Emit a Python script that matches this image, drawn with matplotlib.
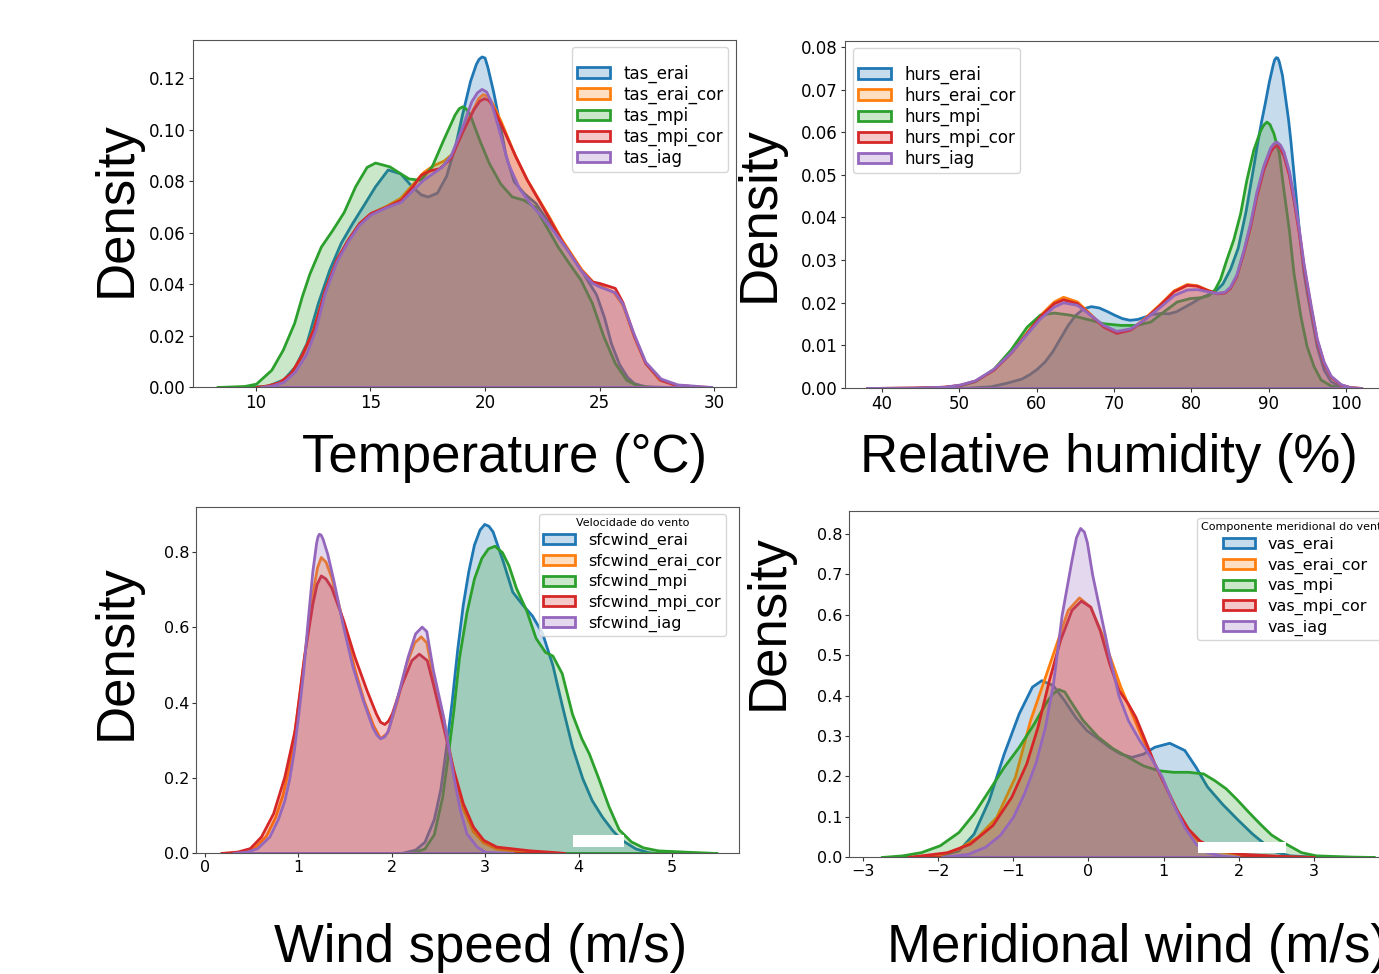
import matplotlib
matplotlib.use("Agg")
import matplotlib.pyplot as plt
from matplotlib.patches import Patch, Rectangle
from matplotlib.colors import to_rgba

# ---------------- data (density curves) ----------------
# Panel 1: temperature
tas_erai_x = [9.5, 10.5, 11.2, 11.7, 12.2, 12.7, 13.2, 13.7, 14.2, 14.7, 15.2, 15.75, 16.3, 16.8, 17.2, 17.5, 17.9, 18.3, 18.7, 19.0,
              19.35, 19.6, 19.72, 19.85, 19.98, 20.1, 20.35, 20.6, 20.9, 21.25, 21.7, 22.2, 22.7, 23.2, 23.7, 24.2, 24.5, 24.85, 25.2, 25.5,
              25.85, 26.2, 26.5, 27.0, 28.0]
tas_erai_y = [0.0, 0.0005, 0.003, 0.008, 0.017, 0.0326, 0.0456, 0.056, 0.0637, 0.0708, 0.078, 0.0845, 0.083, 0.078, 0.0748, 0.074, 0.0755, 0.082, 0.094, 0.106,
              0.119, 0.1255, 0.1275, 0.1284, 0.128, 0.1245, 0.115, 0.104, 0.090, 0.080, 0.0753, 0.0715, 0.065, 0.058, 0.052, 0.0455, 0.041, 0.036, 0.027, 0.017,
              0.009, 0.004, 0.0015, 0.0003, 0.0]
tas_erai_cor_x = [10.0, 10.5, 11.0, 11.5, 12.0, 12.5, 13.0, 13.5, 14.0, 14.5, 15.0, 15.7, 16.3, 16.8, 17.3, 17.7, 18.2, 18.6, 19.0, 19.5,
                  19.7, 19.9, 20.1, 20.3, 20.7, 21.3, 21.8, 22.3, 22.8, 23.3, 24.2, 24.7, 25.0, 25.6, 26.0, 26.5, 27.0, 27.6, 28.3, 29.8]
tas_erai_cor_y = [0.0, 0.0006, 0.0018, 0.005, 0.0125, 0.0225, 0.0375, 0.049, 0.057, 0.0635, 0.0675, 0.0705, 0.0735, 0.0785, 0.0835, 0.086, 0.088, 0.091, 0.100, 0.1085,
                  0.1122, 0.1138, 0.113, 0.1105, 0.103, 0.090, 0.081, 0.0735, 0.066, 0.058, 0.0458, 0.041, 0.0395, 0.037, 0.032, 0.0195, 0.0092, 0.0028, 0.0008, 0.0]
tas_mpi_x = [8.3, 9.5, 10.0, 10.67, 11.17, 11.67, 12.0, 12.33, 12.83, 13.33, 13.83, 14.33, 14.83, 15.2, 15.83, 16.3, 16.67, 17.17, 17.67, 18.17,
             18.67, 18.85, 19.0, 19.15, 19.33, 19.75, 20.17, 20.67, 21.17, 21.67, 22.17, 22.67, 23.17, 23.67, 24.17, 24.67, 25.17, 25.67, 26.17, 26.67,
             27.3]
tas_mpi_y = [0.0, 0.0004, 0.0013, 0.0067, 0.0145, 0.025, 0.0352, 0.044, 0.0545, 0.061, 0.068, 0.078, 0.0855, 0.0872, 0.0857, 0.083, 0.081, 0.0805, 0.0857, 0.096,
             0.1058, 0.1083, 0.109, 0.1083, 0.106, 0.096, 0.087, 0.079, 0.074, 0.0728, 0.070, 0.0624, 0.0546, 0.048, 0.0417, 0.0326, 0.0197, 0.0093, 0.0028, 0.0005,
             0.0]
tas_mpi_cor_x = [10.0, 10.5, 11.0, 11.5, 12.0, 12.5, 13.0, 13.5, 14.0, 14.5, 15.0, 15.67, 16.33, 16.83, 17.2, 17.6, 18.0, 18.5, 19.0, 19.5,
                 19.75, 19.95, 20.15, 20.3, 20.67, 21.33, 21.83, 22.33, 22.83, 23.33, 24.17, 24.67, 25.0, 25.67, 26.0, 26.5, 27.0, 27.67, 28.3, 29.5]
tas_mpi_cor_y = [0.0, 0.0006, 0.0018, 0.0052, 0.0125, 0.0223, 0.0378, 0.0494, 0.0572, 0.0637, 0.0676, 0.070, 0.0728, 0.078, 0.0825, 0.0842, 0.085, 0.089, 0.099, 0.108,
                 0.1112, 0.1122, 0.1115, 0.1095, 0.1025, 0.0896, 0.0805, 0.0728, 0.065, 0.057, 0.0456, 0.041, 0.0404, 0.0385, 0.033, 0.020, 0.0093, 0.0028, 0.0009, 0.0]
tas_iag_x = [10.2, 10.7, 11.2, 11.7, 12.2, 12.6, 13.0, 13.5, 14.0, 14.5, 15.0, 15.67, 16.33, 16.83, 17.3, 17.7, 18.1, 18.5, 19.0, 19.4,
             19.65, 19.85, 20.05, 20.25, 20.6, 21.0, 21.5, 22.0, 22.5, 23.0, 23.5, 24.17, 24.67, 25.0, 25.67, 26.0, 26.5, 27.0, 27.67, 28.4,
             29.9]
tas_iag_y = [0.0, 0.0006, 0.002, 0.006, 0.013, 0.0225, 0.0365, 0.0485, 0.0565, 0.063, 0.067, 0.0698, 0.072, 0.0765, 0.0805, 0.083, 0.0855, 0.090, 0.101, 0.111,
             0.1145, 0.1158, 0.1148, 0.111, 0.100, 0.087, 0.077, 0.071, 0.066, 0.0605, 0.0545, 0.0455, 0.0405, 0.039, 0.0368, 0.0325, 0.0205, 0.0098, 0.0033, 0.001,
             0.0]

# Panel 2: relative humidity
hurs_erai_x = [50, 54, 56, 58, 59, 60, 61, 62, 63, 64, 65, 66, 67, 68, 69, 70, 71, 72, 73, 74,
               75, 76, 77, 78, 79, 80, 81, 82, 83, 84, 85, 86, 87, 88, 88.5, 89, 89.5, 90, 90.5, 90.7,
               90.9, 91.1, 91.3, 91.7, 92.1, 92.5, 92.8, 93.4, 94, 94.5, 95, 95.4, 96.2, 97.1, 98,
               99.3, 100.5]
hurs_erai_y = [0.0, 0.0004, 0.0012, 0.0022, 0.0032, 0.0045, 0.0062, 0.0086, 0.0117, 0.0148, 0.0172, 0.0187, 0.0192, 0.0189, 0.0181, 0.0172, 0.0164, 0.0160, 0.0162, 0.0168,
               0.0174, 0.0176, 0.0175, 0.0180, 0.0190, 0.0200, 0.0211, 0.0219, 0.0227, 0.0245, 0.028, 0.033, 0.0415, 0.052, 0.0575, 0.0625, 0.067, 0.0718, 0.0758, 0.0771,
               0.0776, 0.0775, 0.0766, 0.0735, 0.0683, 0.063, 0.058, 0.0465, 0.035, 0.027, 0.0215, 0.0176, 0.0098, 0.0043, 0.0016,
               0.0003, 0.0]
hurs_mpi_x = [44, 48, 50, 52, 54.4, 56.6, 58.7, 60.4, 62.2, 64.3, 66.5, 68.6, 70.8, 72.9, 74.7, 76.4, 78.1, 79.8, 81.2, 82.2,
              83.0, 83.7, 84.5, 85.4, 86.3, 87.1, 88.0, 88.9, 89.3, 89.7, 90.1, 90.6, 91.3, 91.9, 92.6, 93.2, 94.1, 94.9, 95.8, 96.7,
              98.0, 99.5]
hurs_mpi_y = [0.0, 0.0002, 0.0006, 0.0016, 0.0045, 0.009, 0.0144, 0.0172, 0.0177, 0.0172, 0.0162, 0.0152, 0.0148, 0.0148, 0.0156, 0.018, 0.0203, 0.0211, 0.0213, 0.0218,
              0.0232, 0.0256, 0.0301, 0.0348, 0.041, 0.0488, 0.0559, 0.0605, 0.0618, 0.0625, 0.0619, 0.0598, 0.0551, 0.0465, 0.0371, 0.027, 0.0168, 0.0098, 0.0051, 0.002,
              0.0006, 0.0]
hurs_cor_x = [38, 44, 48, 50, 52, 54.4, 56.6, 58.7, 60.4, 62.2, 63.4, 65.2, 66.9, 68.6, 70.3, 72.1, 73.8, 75.9, 77.7, 79.4,
              80.7, 82.0, 83.3, 84.3, 85.0, 85.8, 86.7, 87.6, 88.4, 89.3, 90.2, 90.6, 91.0, 91.45, 91.9, 92.6, 93.2, 93.9, 94.5, 95.4,
              96.2, 97.1, 98.0, 99.3, 100.5, 102.0]
hurs_erai_cor_y = [0.0, 0.0001, 0.0003, 0.0007, 0.0017, 0.0043, 0.0083, 0.0131, 0.0171, 0.0203, 0.0214, 0.0203, 0.0174, 0.0145, 0.0131, 0.0139, 0.0162, 0.0197, 0.0229, 0.0244,
                   0.0241, 0.0231, 0.0223, 0.0225, 0.0236, 0.0264, 0.0320, 0.0385, 0.0455, 0.0518, 0.0562, 0.0572, 0.0576, 0.0569, 0.0552, 0.0505, 0.0445, 0.0366, 0.0287, 0.0192,
                   0.0113, 0.0059, 0.0027, 0.0008, 0.0002, 0.0]
hurs_mpi_cor_y = [0.0, 0.0001, 0.0003, 0.0007, 0.0017, 0.0043, 0.0082, 0.0129, 0.0168, 0.0199, 0.0208, 0.0199, 0.0172, 0.0144, 0.0129, 0.0137, 0.016, 0.0195, 0.0227, 0.0242,
                  0.024, 0.023, 0.0222, 0.0224, 0.0235, 0.0262, 0.0317, 0.038, 0.045, 0.0512, 0.0555, 0.0565, 0.0570, 0.0562, 0.0545, 0.0500, 0.0440, 0.0362, 0.0284, 0.019,
                  0.0112, 0.0058, 0.0027, 0.0008, 0.0002, 0.0]
hurs_iag_y = [0.0, 0.0001, 0.0003, 0.0008, 0.0018, 0.0045, 0.0083, 0.0127, 0.0163, 0.0191, 0.0201, 0.0195, 0.0172, 0.0148, 0.0134, 0.0140, 0.0160, 0.0190, 0.0218, 0.0231,
              0.0232, 0.0227, 0.0223, 0.0226, 0.0238, 0.0266, 0.0322, 0.0388, 0.0460, 0.0522, 0.0565, 0.0574, 0.0578, 0.0571, 0.0555, 0.0510, 0.0450, 0.0372, 0.0292, 0.0197,
              0.0117, 0.0062, 0.0029, 0.0009, 0.0002, 0.0]

# Panel 3: wind speed
sfcwind_erai_x = [2.1, 2.25, 2.35, 2.45, 2.52, 2.58, 2.64, 2.70, 2.76, 2.82, 2.88, 2.94, 2.99, 3.035, 3.08, 3.19, 3.29, 3.40, 3.50, 3.61,
                  3.72, 3.82, 3.93, 4.04, 4.14, 4.25, 4.36, 4.46, 4.61, 4.75, 4.85]
sfcwind_erai_y = [0.0, 0.009, 0.03, 0.09, 0.17, 0.28, 0.40, 0.54, 0.66, 0.75, 0.82, 0.86, 0.875, 0.87, 0.855, 0.775, 0.695, 0.66, 0.632, 0.585,
                  0.50, 0.394, 0.283, 0.199, 0.141, 0.097, 0.061, 0.035, 0.012, 0.002, 0.0]
sfcwind_erai_cor_x = [0.25, 0.4, 0.52, 0.65, 0.75, 0.83, 0.9, 0.95, 1.0, 1.05, 1.1, 1.15, 1.2, 1.24, 1.29, 1.35, 1.42, 1.5, 1.6, 1.7,
                      1.8, 1.875, 1.95, 2.05, 2.15, 2.24, 2.31, 2.37, 2.44, 2.55, 2.66, 2.76, 2.87, 2.98, 3.12, 3.4, 3.7]
sfcwind_erai_cor_y = [0.0, 0.004, 0.013, 0.045, 0.095, 0.155, 0.23, 0.31, 0.40, 0.5, 0.6, 0.69, 0.76, 0.787, 0.775, 0.735, 0.67, 0.59, 0.49, 0.405,
                      0.34, 0.305, 0.32, 0.40, 0.50, 0.56, 0.576, 0.56, 0.47, 0.36, 0.215, 0.12, 0.058, 0.028, 0.012, 0.004, 0.0]
sfcwind_mpi_x = [2.2, 2.35, 2.45, 2.54, 2.6, 2.66, 2.72, 2.8, 2.88, 2.96, 3.03, 3.1, 3.18, 3.25, 3.33, 3.44, 3.54, 3.64, 3.72, 3.82,
                 3.93, 4.03, 4.11, 4.21, 4.32, 4.43, 4.56, 4.69, 4.85, 5.15, 5.48]
sfcwind_mpi_y = [0.0, 0.012, 0.05, 0.15, 0.26, 0.38, 0.52, 0.64, 0.73, 0.785, 0.81, 0.817, 0.80, 0.765, 0.705, 0.645, 0.572, 0.535, 0.525, 0.478,
                 0.37, 0.305, 0.265, 0.20, 0.125, 0.063, 0.031, 0.015, 0.007, 0.0035, 0.0]
sfcwind_mpi_cor_x = [0.17, 0.35, 0.48, 0.6, 0.73, 0.85, 0.96, 1.06, 1.15, 1.195, 1.24, 1.29, 1.35, 1.48, 1.6, 1.73, 1.83, 1.875, 1.92, 1.96,
                     2.0, 2.1, 2.21, 2.29, 2.375, 2.44, 2.55, 2.66, 2.76, 2.87, 2.98, 3.12, 3.48, 3.77, 3.85]
sfcwind_mpi_cor_y = [0.0, 0.004, 0.013, 0.044, 0.106, 0.203, 0.327, 0.522, 0.663, 0.715, 0.738, 0.73, 0.707, 0.619, 0.522, 0.433, 0.371, 0.349, 0.343, 0.352,
                     0.371, 0.446, 0.513, 0.530, 0.513, 0.45, 0.336, 0.221, 0.133, 0.07, 0.035, 0.017, 0.007, 0.002, 0.0]
sfcwind_iag_x = [0.3, 0.45, 0.56, 0.69, 0.78, 0.85, 0.9, 0.95, 1.0, 1.05, 1.1, 1.15, 1.19, 1.205, 1.22, 1.24, 1.26, 1.31, 1.375, 1.48,
                 1.58, 1.69, 1.79, 1.835, 1.875, 1.92, 1.96, 2.06, 2.17, 2.25, 2.32, 2.37, 2.44, 2.55, 2.66, 2.73, 2.80, 2.91, 3.0, 3.3]
sfcwind_iag_y = [0.0, 0.004, 0.013, 0.044, 0.09, 0.14, 0.195, 0.27, 0.37, 0.48, 0.62, 0.75, 0.825, 0.842, 0.849, 0.846, 0.835, 0.795, 0.725, 0.601,
                 0.495, 0.407, 0.336, 0.315, 0.305, 0.31, 0.327, 0.416, 0.522, 0.584, 0.602, 0.59, 0.487, 0.363, 0.203, 0.114, 0.052, 0.017, 0.003, 0.0]

# Panel 4: meridional wind
vas_erai_x = [-2.1, -1.975, -1.725, -1.525, -1.325, -1.125, -0.925, -0.75, -0.625, -0.475, -0.325, -0.175, -0.025, 0.125, 0.275, 0.425, 0.575, 0.725, 0.875, 1.075,
              1.275, 1.425, 1.575, 1.775, 1.975, 2.175, 2.325, 2.475, 2.675, 3.0, 3.5]
vas_erai_y = [0.0, 0.004, 0.0165, 0.058, 0.141, 0.256, 0.356, 0.422, 0.438, 0.426, 0.389, 0.347, 0.314, 0.294, 0.273, 0.256, 0.248, 0.256, 0.273, 0.283,
              0.265, 0.223, 0.175, 0.132, 0.094, 0.058, 0.035, 0.014, 0.004, 0.001, 0.0]
vas_erai_cor_x = [-2.4, -1.975, -1.725, -1.475, -1.225, -0.975, -0.775, -0.575, -0.425, -0.275, -0.125, 0.025, 0.175, 0.3, 0.425, 0.575, 0.725, 0.875, 1.025, 1.175,
                  1.325, 1.475, 1.675, 2.025, 2.5, 2.9]
vas_erai_cor_y = [0.0, 0.006, 0.021, 0.05, 0.099, 0.199, 0.339, 0.447, 0.529, 0.612, 0.643, 0.62, 0.554, 0.488, 0.422, 0.356, 0.29, 0.232, 0.174, 0.116,
                  0.066, 0.037, 0.017, 0.006, 0.002, 0.0]
vas_mpi_x = [-2.75, -2.475, -2.225, -1.975, -1.725, -1.525, -1.325, -1.125, -0.925, -0.725, -0.575, -0.48, -0.4, -0.32, -0.25, -0.075, 0.125, 0.325, 0.525, 0.725,
             0.925, 1.125, 1.325, 1.525, 1.675, 1.825, 1.975, 2.125, 2.275, 2.425, 2.575, 2.825, 3.025, 3.5, 3.8]
vas_mpi_y = [0.0, 0.004, 0.012, 0.029, 0.062, 0.108, 0.165, 0.223, 0.273, 0.331, 0.38, 0.405, 0.416, 0.41, 0.389, 0.339, 0.298, 0.269, 0.248, 0.227,
             0.215, 0.211, 0.211, 0.207, 0.19, 0.17, 0.142, 0.112, 0.083, 0.056, 0.038, 0.012, 0.004, 0.001, 0.0]
vas_mpi_cor_x = [-2.4, -1.875, -1.575, -1.275, -1.025, -0.825, -0.675, -0.525, -0.375, -0.225, -0.1, 0.025, 0.15, 0.275, 0.4, 0.525, 0.625, 0.75, 0.875, 1.025,
                 1.175, 1.325, 1.475, 1.675, 2.025, 2.525, 3.0]
vas_mpi_cor_y = [0.0, 0.012, 0.033, 0.079, 0.149, 0.232, 0.323, 0.438, 0.538, 0.612, 0.635, 0.62, 0.562, 0.48, 0.414, 0.38, 0.347, 0.29, 0.232, 0.174,
                 0.116, 0.07, 0.041, 0.021, 0.008, 0.003, 0.0]
vas_iag_x = [-1.95, -1.6, -1.375, -1.175, -1.0, -0.85, -0.7, -0.58, -0.47, -0.355, -0.225, -0.165, -0.11, -0.06, -0.02, 0.05, 0.15, 0.275, 0.4, 0.525,
             0.675, 0.825, 0.975, 1.125, 1.275, 1.425, 1.575, 1.775, 2.0]
vas_iag_y = [0.0, 0.008, 0.025, 0.055, 0.10, 0.16, 0.235, 0.32, 0.43, 0.60, 0.735, 0.792, 0.815, 0.806, 0.78, 0.70, 0.611, 0.50, 0.40, 0.339,
             0.29, 0.248, 0.199, 0.132, 0.074, 0.033, 0.012, 0.003, 0.0]

colors = ["#1f77b4", "#ff7f0e", "#2ca02c", "#d62728", "#9467bd"]

panels = [
    dict(series=[("tas_erai", tas_erai_x, tas_erai_y), ("tas_erai_cor", tas_erai_cor_x, tas_erai_cor_y),
                 ("tas_mpi", tas_mpi_x, tas_mpi_y), ("tas_mpi_cor", tas_mpi_cor_x, tas_mpi_cor_y),
                 ("tas_iag", tas_iag_x, tas_iag_y)],
         box=(193, 40, 543, 347), xlim=(7.25, 30.96), ylim=(0, 0.1348),
         xticks=[10, 15, 20, 25, 30], yticks=[0.00, 0.02, 0.04, 0.06, 0.08, 0.10, 0.12], yfmt="{:.2f}",
         tsize=12, lsize=12, lspace=0.17, title=" ", leg=(572, 47)),
    dict(series=[("hurs_erai", hurs_erai_x, hurs_erai_y), ("hurs_erai_cor", hurs_cor_x, hurs_erai_cor_y),
                 ("hurs_mpi", hurs_mpi_x, hurs_mpi_y), ("hurs_mpi_cor", hurs_cor_x, hurs_mpi_cor_y),
                 ("hurs_iag", hurs_cor_x, hurs_iag_y)],
         box=(845, 41, 545, 347), xlim=(35.2, 105.68), ylim=(0, 0.0814),
         xticks=[40, 50, 60, 70, 80, 90, 100], yticks=[0.00, 0.01, 0.02, 0.03, 0.04, 0.05, 0.06, 0.07, 0.08], yfmt="{:.2f}",
         tsize=12, lsize=12, lspace=0.17, title=" ", leg=(853, 48)),
    dict(series=[("sfcwind_erai", sfcwind_erai_x, sfcwind_erai_y), ("sfcwind_erai_cor", sfcwind_erai_cor_x, sfcwind_erai_cor_y),
                 ("sfcwind_mpi", sfcwind_mpi_x, sfcwind_mpi_y), ("sfcwind_mpi_cor", sfcwind_mpi_cor_x, sfcwind_mpi_cor_y),
                 ("sfcwind_iag", sfcwind_iag_x, sfcwind_iag_y)],
         box=(196, 507, 543, 346), xlim=(-0.096, 5.718), ylim=(0, 0.92),
         xticks=[0, 1, 2, 3, 4, 5], yticks=[0.0, 0.2, 0.4, 0.6, 0.8], yfmt="{:.1f}",
         tsize=11.5, lsize=11.5, lspace=0.28, title="Velocidade do vento", leg=(539, 514)),
    dict(series=[("vas_erai", vas_erai_x, vas_erai_y), ("vas_erai_cor", vas_erai_cor_x, vas_erai_cor_y),
                 ("vas_mpi", vas_mpi_x, vas_mpi_y), ("vas_mpi_cor", vas_mpi_cor_x, vas_mpi_cor_y),
                 ("vas_iag", vas_iag_x, vas_iag_y)],
         box=(849, 511, 545, 346), xlim=(-3.18, 4.06), ylim=(0, 0.857),
         xticks=[-3, -2, -1, 0, 1, 2, 3], yticks=[0.0, 0.1, 0.2, 0.3, 0.4, 0.5, 0.6, 0.7, 0.8], yfmt="{:.1f}",
         tsize=11.5, lsize=11.5, lspace=0.28, title="Componente meridional do vento", leg=(1197, 518)),
]

W, H = 1379, 974
fig = plt.figure(figsize=(W / 100, H / 100), dpi=100)

for p in panels:
    l, t, w, h = p["box"]
    ax = fig.add_axes([l / W, 1 - (t + h) / H, w / W, h / H])
    handles = []
    for (name, xs, ys), c in zip(p["series"], colors):
        ax.fill_between(xs, 0, ys, facecolor=to_rgba(c, 0.25), edgecolor=c, linewidth=2)
        handles.append(Patch(facecolor=to_rgba(c, 0.25), edgecolor=c, linewidth=2, label=name))
    ax.set_xlim(*p["xlim"])
    ax.set_ylim(*p["ylim"])
    ax.set_xticks(p["xticks"])
    ax.set_yticks(p["yticks"])
    ax.set_yticklabels([p["yfmt"].format(v) for v in p["yticks"]])
    ax.tick_params(labelsize=p["tsize"], color="#333333", length=3, pad=2)
    for s in ax.spines.values():
        s.set_color("#555555")
    lx, ly = p["leg"]
    ax.legend(handles=handles, loc="upper left", bbox_to_anchor=(lx / W, 1 - ly / H),
              bbox_transform=fig.transFigure, borderaxespad=0, fontsize=p["lsize"],
              title=p["title"], title_fontsize=8, labelspacing=p["lspace"], borderpad=0.28,
              handleheight=0.6)

big = dict(family="Liberation Sans", fontsize=38, color="black")
fig.text(504 / W, 1 - 472 / H, "Temperature (°C)", ha="center", va="baseline", **big)
fig.text(1109 / W, 1 - 472 / H, "Relative humidity (%)", ha="center", va="baseline", **big)
fig.text(481 / W, 1 - 962 / H, "Wind speed (m/s)", ha="center", va="baseline", **big)
fig.text(887 / W, 1 - 962 / H, "Meridional wind (m/s)", ha="left", va="baseline", **big)
for (cx, cy) in [(117, 209), (760, 214), (117, 652), (769, 622)]:
    fig.text(cx / W, 1 - cy / H, "Density", rotation=90, ha="center", va="center", **big)

# white patches present in the picture
for (x0, y0, x1, y1) in [(573, 835, 624, 847), (1198, 842, 1286, 853)]:
    fig.add_artist(Rectangle((x0 / W, 1 - y1 / H), (x1 - x0) / W, (y1 - y0) / H,
                             transform=fig.transFigure, facecolor="white", edgecolor="none", zorder=20))

fig.savefig("out.png", dpi=100)
